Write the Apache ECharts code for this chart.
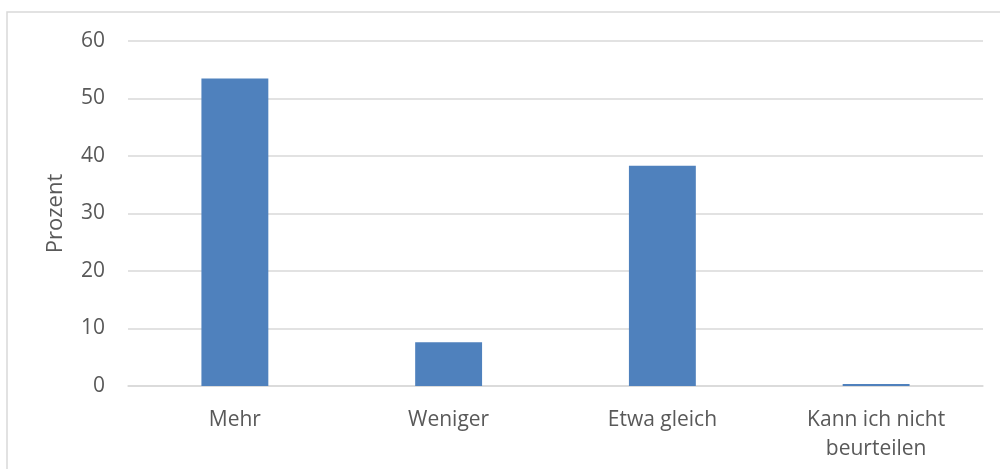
<!DOCTYPE html>
<html>
<head>
<meta charset="utf-8">
<script src="https://cdn.jsdelivr.net/npm/echarts@6/dist/echarts.min.js"></script>
<style>
  html, body { margin: 0; padding: 0; background: #fff; }
  #chart { width: 1000px; height: 469px; }
</style>
</head>
<body>
<div id="chart"></div>
<script>
// Antworten und Anteile in Prozent
const categories = ['Mehr', 'Weniger', 'Etwa gleich', 'Kann ich nicht\nbeurteilen'];
const values = [53.5, 7.6, 38.3, 0.35];
const yTicks = [0, 10, 20, 30, 40, 50, 60];

const textColor = '#595959';
const fontFamily = 'Open Sans, sans-serif';

const chart = echarts.init(document.getElementById('chart'), null, { renderer: 'canvas' });
chart.setOption({
  animation: false,
  backgroundColor: '#ffffff',
  graphic: [{
    type: 'rect',
    shape: { x: 7, y: 12, width: 1100, height: 600 },
    style: { fill: 'none', stroke: '#d9d9d9', lineWidth: 1.5 },
    silent: true
  }],
  grid: { left: 128, right: 17, top: 41, bottom: 83 },
  xAxis: {
    type: 'category',
    data: categories,
    axisLine: { show: true, lineStyle: { color: '#d9d9d9', width: 1.5 } },
    axisTick: { show: false },
    axisLabel: {
      color: textColor, fontFamily: fontFamily, fontSize: 21,
      margin: 20, lineHeight: 29, interval: 0
    }
  },
  yAxis: {
    type: 'value',
    min: yTicks[0],
    max: yTicks[yTicks.length - 1],
    interval: 10,
    name: 'Prozent',
    nameLocation: 'middle',
    nameGap: 61,
    nameTextStyle: { color: textColor, fontFamily: fontFamily, fontSize: 22 },
    axisLine: { show: false },
    axisTick: { show: false },
    splitLine: { lineStyle: { color: '#d9d9d9', width: 1.5 } },
    axisLabel: {
      color: textColor, fontFamily: fontFamily, fontSize: 21, margin: 23,
      formatter: v => yTicks.includes(v) ? String(v) : ''
    }
  },
  series: [{
    type: 'bar',
    data: values,
    barWidth: '31.3%',
    itemStyle: { color: '#4f81bd' }
  }]
});
</script>
</body>
</html>
